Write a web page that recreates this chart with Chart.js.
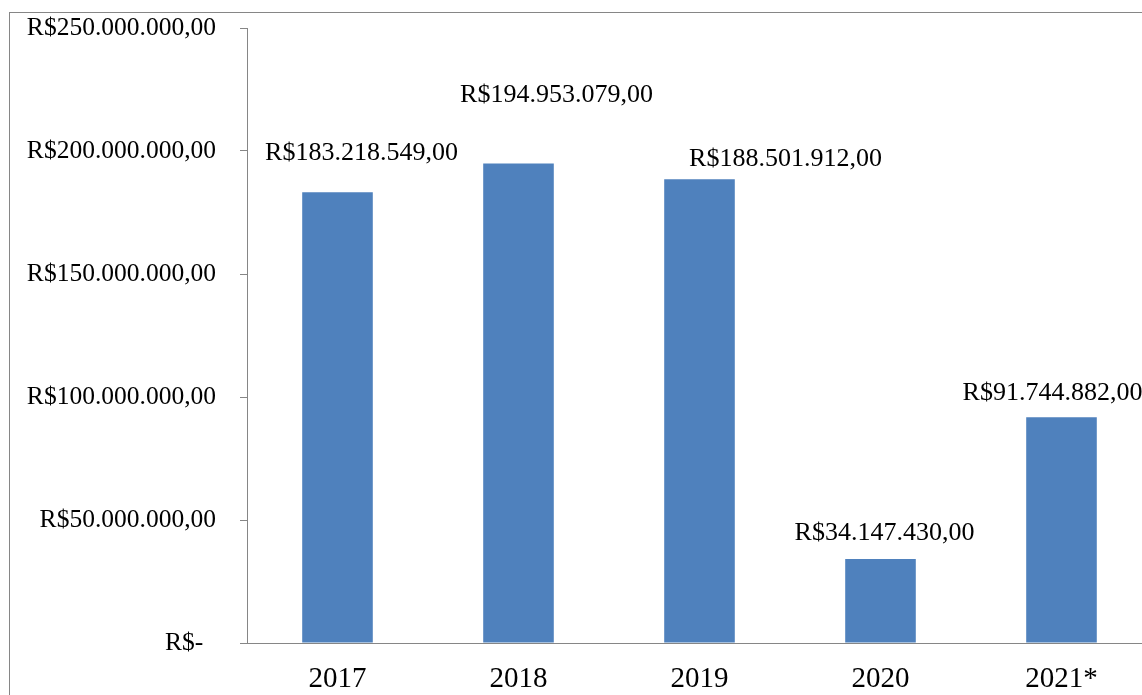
<!DOCTYPE html>
<html>
<head>
<meta charset="utf-8">
<script src="https://cdn.jsdelivr.net/npm/chart.js@4.4.0/dist/chart.umd.min.js"></script>
<style>
  html, body { margin: 0; padding: 0; background: #fff; overflow: hidden; }
  #wrap { position: absolute; left: 0; top: 0; width: 1170px; height: 695px; }
</style>
</head>
<body>
<div id="wrap"><canvas id="c" width="1170" height="695"></canvas></div>
<script>
// ---- data ----
const categories = ['2017', '2018', '2019', '2020', '2021*'];
const values = [183218549, 194953079, 188501912, 34147430, 91744882];
const valueLabels = ['R$183.218.549,00', 'R$194.953.079,00', 'R$188.501.912,00', 'R$34.147.430,00', 'R$91.744.882,00'];
const yTickValues = [0, 50000000, 100000000, 150000000, 200000000, 250000000];
const yTickLabels = ['R$-  ', 'R$50.000.000,00', 'R$100.000.000,00', 'R$150.000.000,00', 'R$200.000.000,00', 'R$250.000.000,00'];

// ---- style: manual label offsets (px) relative to bar top centre ----
const labelOffsets = [[24, -39], [38, -68], [86, -20], [4, -26], [-9, -24]];

const FONT = "'Liberation Serif', 'Times New Roman', serif";
const GRAY = '#868686';

const frame = {
  id: 'frame',
  beforeDraw(chart) {
    const ctx = chart.ctx;
    ctx.save();
    ctx.strokeStyle = GRAY;
    ctx.lineWidth = 1;
    ctx.strokeRect(9.5, 12.5, 3000, 3000);
    ctx.restore();
  }
};

const barLabels = {
  id: 'barLabels',
  afterDatasetsDraw(chart) {
    const ctx = chart.ctx;
    const meta = chart.getDatasetMeta(0);
    ctx.save();
    ctx.font = '26px ' + FONT;
    ctx.fillStyle = '#000';
    ctx.textAlign = 'center';
    ctx.textBaseline = 'middle';
    meta.data.forEach((bar, i) => {
      const o = labelOffsets[i];
      ctx.fillText(valueLabels[i], bar.x + o[0], bar.y + o[1]);
    });
    ctx.restore();
  }
};

new Chart(document.getElementById('c'), {
  type: 'bar',
  data: {
    labels: categories,
    datasets: [{
      data: values,
      backgroundColor: '#4F81BD',
      borderWidth: 0,
      categoryPercentage: 1.0,
      barPercentage: 0.39
    }]
  },
  options: {
    responsive: false,
    animation: false,
    devicePixelRatio: 1,
    layout: { padding: { left: 0, top: 28, right: 18, bottom: 0 } },
    plugins: { legend: { display: false }, tooltip: { enabled: false } },
    scales: {
      x: {
        grid: { display: false, drawTicks: false },
        border: { display: true, color: GRAY, width: 1 },
        ticks: { color: '#000', font: { family: FONT, size: 29 }, padding: 19, maxRotation: 0 },
        afterFit(scale) { scale.height = 52; }
      },
      y: {
        min: 0,
        max: 250000000,
        afterBuildTicks(scale) { scale.ticks = yTickValues.map(v => ({ value: v })); },
        grid: { drawOnChartArea: false, drawTicks: true, tickLength: 7, color: GRAY },
        border: { display: true, color: GRAY, width: 1 },
        ticks: {
          color: '#000',
          font: { family: FONT, size: 25.5 },
          padding: 24,
          callback(v) { const i = yTickValues.indexOf(v); return i >= 0 ? yTickLabels[i] : ''; }
        },
        afterFit(scale) { scale.width = 247; scale.paddingTop = 0; scale.paddingBottom = 0; }
      }
    }
  },
  plugins: [frame, barLabels]
});
</script>
</body>
</html>
